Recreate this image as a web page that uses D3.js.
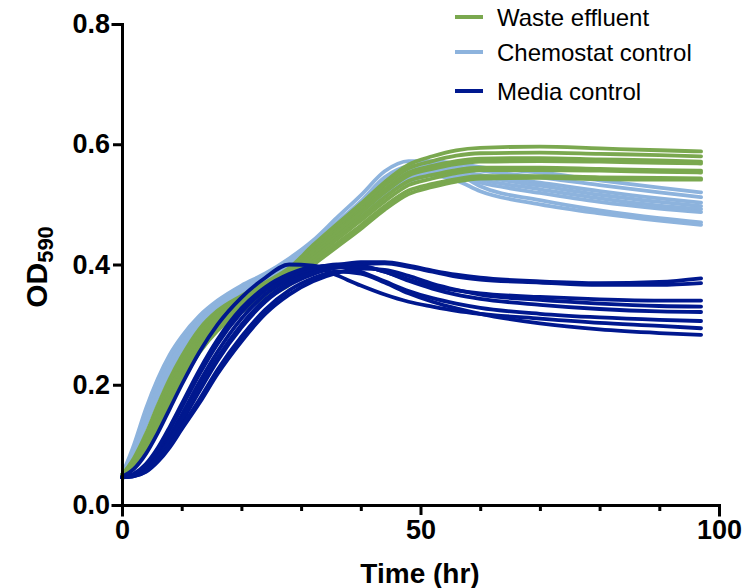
<!DOCTYPE html>
<html>
<head>
<meta charset="utf-8">
<script src="https://cdn.jsdelivr.net/npm/d3@7"></script>
<style>
  body { margin: 0; background: #fff; }
</style>
</head>
<body>
<div id="growthChart"></div>
<script>
// time points (hr) shared by every well
var hours = [0, 2, 4, 6, 8, 10, 13, 16, 20, 24, 28, 32, 36, 40, 44, 48, 52, 56, 60, 70, 80, 90, 97];

// Waste effluent wells
var wasteEffluent = [
    [0.050,0.078,0.118,0.166,0.210,0.247,0.293,0.323,0.348,0.370,0.394,0.432,0.467,0.501,0.537,0.566,0.580,0.590,0.594,0.596,0.593,0.590,0.588],
    [0.049,0.075,0.113,0.160,0.204,0.242,0.287,0.318,0.344,0.366,0.390,0.428,0.462,0.496,0.532,0.560,0.572,0.581,0.585,0.586,0.584,0.582,0.580],
    [0.050,0.072,0.108,0.153,0.197,0.236,0.281,0.313,0.340,0.362,0.386,0.423,0.457,0.490,0.525,0.553,0.564,0.572,0.576,0.577,0.575,0.573,0.571],
    [0.049,0.070,0.104,0.147,0.191,0.230,0.276,0.309,0.337,0.360,0.383,0.420,0.453,0.486,0.520,0.548,0.559,0.567,0.571,0.572,0.571,0.569,0.568],
    [0.050,0.068,0.100,0.142,0.185,0.224,0.271,0.304,0.333,0.356,0.379,0.415,0.447,0.479,0.512,0.539,0.549,0.557,0.561,0.561,0.559,0.557,0.556],
    [0.049,0.066,0.096,0.136,0.179,0.218,0.266,0.300,0.329,0.352,0.375,0.410,0.442,0.473,0.505,0.532,0.543,0.552,0.557,0.557,0.556,0.554,0.553],
    [0.050,0.064,0.092,0.130,0.172,0.211,0.260,0.295,0.325,0.348,0.370,0.404,0.435,0.465,0.497,0.523,0.534,0.542,0.547,0.547,0.545,0.544,0.543],
    [0.049,0.062,0.088,0.124,0.165,0.204,0.254,0.290,0.321,0.344,0.366,0.399,0.429,0.459,0.491,0.517,0.529,0.538,0.543,0.544,0.542,0.541,0.541]
];

// Chemostat control wells
var chemostatControl = [
    [0.050,0.100,0.160,0.210,0.250,0.280,0.315,0.340,0.365,0.385,0.410,0.440,0.478,0.515,0.555,0.572,0.572,0.568,0.562,0.553,0.540,0.528,0.520],
    [0.050,0.095,0.150,0.200,0.240,0.272,0.308,0.335,0.362,0.383,0.406,0.436,0.470,0.505,0.545,0.563,0.566,0.562,0.556,0.545,0.532,0.520,0.512],
    [0.049,0.092,0.145,0.195,0.236,0.268,0.305,0.332,0.360,0.380,0.403,0.432,0.465,0.500,0.538,0.558,0.561,0.556,0.549,0.536,0.522,0.510,0.503],
    [0.049,0.090,0.140,0.190,0.232,0.265,0.302,0.330,0.358,0.378,0.401,0.429,0.462,0.495,0.532,0.555,0.558,0.553,0.546,0.531,0.516,0.504,0.497],
    [0.050,0.088,0.138,0.186,0.228,0.262,0.300,0.328,0.356,0.377,0.400,0.427,0.459,0.491,0.525,0.550,0.556,0.550,0.541,0.525,0.510,0.498,0.492],
    [0.049,0.087,0.135,0.183,0.225,0.260,0.298,0.326,0.354,0.376,0.398,0.425,0.455,0.485,0.518,0.543,0.552,0.546,0.536,0.519,0.504,0.493,0.487],
    [0.050,0.090,0.142,0.192,0.233,0.266,0.303,0.331,0.359,0.379,0.402,0.430,0.463,0.498,0.535,0.558,0.562,0.552,0.530,0.507,0.490,0.477,0.470],
    [0.049,0.086,0.133,0.180,0.222,0.257,0.296,0.325,0.353,0.374,0.397,0.423,0.453,0.483,0.514,0.538,0.548,0.540,0.522,0.500,0.485,0.473,0.466]
];

// Media control wells
var mediaControl = [
    [0.046,0.050,0.062,0.085,0.115,0.150,0.205,0.255,0.310,0.350,0.375,0.390,0.399,0.404,0.404,0.398,0.390,0.383,0.378,0.372,0.369,0.371,0.377],
    [0.046,0.049,0.058,0.078,0.105,0.138,0.190,0.240,0.295,0.338,0.366,0.384,0.395,0.401,0.402,0.396,0.388,0.380,0.375,0.370,0.366,0.366,0.369],
    [0.046,0.051,0.066,0.092,0.125,0.162,0.218,0.268,0.320,0.357,0.380,0.393,0.400,0.398,0.388,0.375,0.364,0.357,0.352,0.346,0.342,0.340,0.340],
    [0.046,0.048,0.055,0.072,0.096,0.126,0.170,0.218,0.272,0.318,0.350,0.372,0.386,0.393,0.391,0.381,0.368,0.358,0.350,0.341,0.335,0.331,0.330],
    [0.046,0.050,0.060,0.080,0.108,0.142,0.195,0.245,0.300,0.342,0.370,0.386,0.395,0.396,0.388,0.373,0.360,0.350,0.343,0.333,0.326,0.322,0.321],
    [0.046,0.052,0.068,0.095,0.130,0.168,0.225,0.275,0.327,0.362,0.384,0.396,0.398,0.388,0.372,0.356,0.344,0.335,0.328,0.318,0.312,0.308,0.306],
    [0.046,0.048,0.056,0.074,0.099,0.130,0.176,0.225,0.280,0.325,0.357,0.377,0.388,0.385,0.370,0.352,0.338,0.327,0.318,0.302,0.292,0.286,0.283],
    [0.047,0.060,0.085,0.120,0.160,0.200,0.255,0.300,0.345,0.378,0.400,0.398,0.382,0.365,0.350,0.338,0.330,0.323,0.318,0.310,0.303,0.298,0.294]
];

var groupNames = ["Waste effluent", "Chemostat control", "Media control"];
var groupColors = ["#7aa84f", "#8db3dd", "#00188f"];

var xTicks = [0, 50, 100];
var xMinorTicks = [10, 20, 30, 40, 60, 70, 80, 90];
var yTicks = [0, 0.2, 0.4, 0.6, 0.8];

var width = 746;
var height = 588;
var font = "'Liberation Sans', Arial, Helvetica, sans-serif";

var svg = d3.select("#growthChart")
    .append("svg")
    .attr("width", width)
    .attr("height", height)
    .attr("font-family", font);

var x = d3.scaleLinear().domain([0, 100]).range([122, 719]);
var y = d3.scaleLinear().domain([0, 0.8]).range([505, 24]);

var line = d3.line()
    .x(function(d, i) { return x(hours[i]); })
    .y(function(d) { return y(d); })
    .curve(d3.curveMonotoneX);

// draw order: chemostat underneath, then waste, media on top
var drawOrder = [
    { rows: chemostatControl, color: groupColors[1] },
    { rows: wasteEffluent, color: groupColors[0] },
    { rows: mediaControl, color: groupColors[2] }
];

drawOrder.forEach(function(g) {
    svg.append("g")
        .selectAll("path")
        .data(g.rows)
        .enter()
        .append("path")
        .attr("d", line)
        .attr("fill", "none")
        .attr("stroke", g.color)
        .attr("stroke-width", 3.8)
        .attr("stroke-linejoin", "round")
        .attr("stroke-linecap", "round");
});

// y axis
var yAxis = svg.append("g")
    .attr("transform", "translate(" + x(0) + ",0)")
    .call(d3.axisLeft(y).tickValues(yTicks).tickSize(9).tickPadding(3).tickFormat(d3.format(".1f")));

// x axis, major then minor ticks
var xAxis = svg.append("g")
    .attr("transform", "translate(0," + y(0) + ")")
    .call(d3.axisBottom(x).tickValues(xTicks).tickSize(10).tickPadding(5).tickFormat(d3.format("d")));

var xMinor = svg.append("g")
    .attr("transform", "translate(0," + y(0) + ")")
    .call(d3.axisBottom(x).tickValues(xMinorTicks).tickSize(6).tickFormat(""));
xMinor.select(".domain").remove();

[yAxis, xAxis, xMinor].forEach(function(a) {
    a.selectAll(".domain").attr("stroke", "#000").attr("stroke-width", 3).attr("stroke-linecap", "square");
    a.selectAll(".tick line").attr("stroke", "#000").attr("stroke-width", 3);
    a.selectAll(".tick text")
        .attr("fill", "#000")
        .attr("font-family", font)
        .attr("font-weight", "bold")
        .attr("font-size", "27px");
});

// axis titles
svg.append("text")
    .attr("x", 420)
    .attr("y", 583)
    .attr("text-anchor", "middle")
    .attr("font-weight", "bold")
    .attr("font-size", "28px")
    .text("Time (hr)");

var yTitle = svg.append("text")
    .attr("transform", "translate(47,267) rotate(-90)")
    .attr("text-anchor", "middle")
    .attr("font-weight", "bold")
    .attr("font-size", "30px");
yTitle.append("tspan").text("OD");
yTitle.append("tspan")
    .attr("font-size", "22px")
    .attr("dy", 6)
    .text("590");

// legend
var legend = svg.append("g");
groupNames.forEach(function(name, i) {
    var ly = [17, 52, 91][i];
    legend.append("line")
        .attr("x1", 455).attr("x2", 483)
        .attr("y1", ly).attr("y2", ly)
        .attr("stroke", groupColors[i])
        .attr("stroke-width", 4);
    legend.append("text")
        .attr("x", 497)
        .attr("y", ly + 9)
        .attr("font-size", "24px")
        .attr("fill", "#000")
        .text(name);
});
</script>
</body>
</html>
